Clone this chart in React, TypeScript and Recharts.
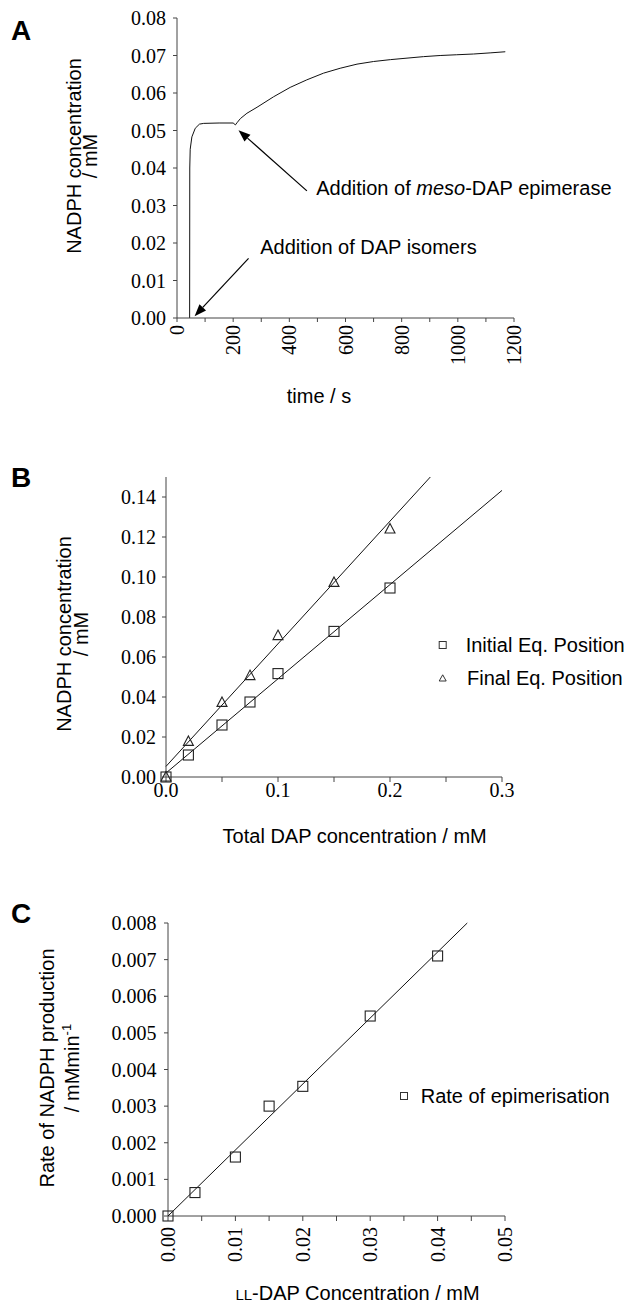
import React from "react";
import {
  LineChart,
  Line,
  ScatterChart,
  Scatter,
  XAxis,
  YAxis,
  ReferenceLine,
  Legend,
} from "recharts";

const SERIF = "Liberation Serif, Times New Roman, serif";
const SANS = "Liberation Sans, Arial, sans-serif";
const AXIS = "#444";
const INK = "#111";

// Panel A: NADPH trace over time
const traceTime = [
  45, 45.5, 47, 53, 65, 80, 95, 150, 200, 208, 215, 226, 249, 285, 344, 403,
  462, 522, 581, 641, 700, 760, 819, 878, 937, 996, 1056, 1115, 1169,
];
const traceNadph = [
  0, 0.04, 0.045, 0.0483, 0.0506, 0.0517, 0.0519, 0.052, 0.052, 0.0515,
  0.0522, 0.0532, 0.0546, 0.0562, 0.059, 0.0615, 0.0635, 0.0653, 0.0666,
  0.0677, 0.0684, 0.0689, 0.0693, 0.0697, 0.07, 0.0702, 0.0704, 0.0707, 0.071,
];
const timeTicks = [0, 100, 200, 300, 400, 500, 600, 700, 800, 900, 1000, 1100, 1200];
const nadphTicksA = [0, 0.01, 0.02, 0.03, 0.04, 0.05, 0.06, 0.07, 0.08];

// arrows: tail -> head, in data units
const dapArrowFrom = { x: 254.8, y: 0.0159 };
const dapArrowTo = { x: 62.6, y: 0.0005 };
const epiArrowFrom = { x: 462.5, y: 0.0339 };
const epiArrowTo = { x: 219, y: 0.0501 };

// Panel B: equilibrium positions
const totalDap = [0, 0.02, 0.05, 0.075, 0.1, 0.15, 0.2];
const initialEq = [0, 0.011, 0.026, 0.0375, 0.0517, 0.0728, 0.0945];
const finalEq = [0, 0.0178, 0.0373, 0.0507, 0.0707, 0.0973, 0.124];
const initialFitX = [0, 0.3];
const initialFitY = [0.002, 0.1433];
const finalFitX = [0, 0.236];
const finalFitY = [0.0053, 0.15];
const dapTicks = [0, 0.05, 0.1, 0.15, 0.2, 0.25, 0.3];
const nadphTicksB = [0, 0.02, 0.04, 0.06, 0.08, 0.1, 0.12, 0.14];

// Panel C: rate of epimerisation
const llDap = [0, 0.004, 0.01, 0.015, 0.02, 0.03, 0.04];
const epimRate = [0, 0.00064, 0.00161, 0.003, 0.00354, 0.00546, 0.0071];
const rateFitX = [0, 0.0444];
const rateFitY = [0, 0.008];
const llDapTicks = [0, 0.005, 0.01, 0.015, 0.02, 0.025, 0.03, 0.035, 0.04, 0.045, 0.05];
const rateTicks = [0, 0.001, 0.002, 0.003, 0.004, 0.005, 0.006, 0.007, 0.008];

const pairs = (xs: number[], ys: number[]) => xs.map((x, i) => ({ x, y: ys[i] }));
const traceData = traceTime.map((t, i) => ({ t, v: traceNadph[i] }));

const serifStyle = { fontFamily: SERIF, fontSize: 20 };
const sansStyle = { fontFamily: SANS, fontSize: 20 };

// y ticks: right-aligned, centred on the tick
const yTick = (fmt: (v: number) => string) => (props: any) => {
  const { x, y, payload } = props;
  return (
    <text x={x} y={y + 7} textAnchor="end" fill="#000" style={serifStyle}>
      {fmt(payload.value)}
    </text>
  );
};

// upright x ticks, only some values labelled
const xTick =
  (show: (v: number) => boolean, fmt: (v: number) => string) => (props: any) => {
    const { x, y, payload } = props;
    if (!show(payload.value)) return <g />;
    return (
      <text x={x} y={y + 13} textAnchor="middle" fill="#000" style={serifStyle}>
        {fmt(payload.value)}
      </text>
    );
  };

// x ticks rotated to read bottom-to-top
const rotatedTick =
  (show: (v: number) => boolean, fmt: (v: number) => string) => (props: any) => {
    const { x, y, payload } = props;
    if (!show(payload.value)) return <g />;
    return (
      <text
        x={x}
        y={y}
        transform={`rotate(-90 ${x} ${y})`}
        textAnchor="end"
        dominantBaseline="central"
        fill="#000"
        style={serifStyle}
      >
        {fmt(payload.value)}
      </text>
    );
  };

const Square = (p: any) => (
  <rect x={p.cx - 5} y={p.cy - 5} width={10} height={10} fill="none" stroke="#222" strokeWidth={1.1} />
);
const Triangle = (p: any) => (
  <path
    d={`M${p.cx},${p.cy - 5.5} L${p.cx + 5},${p.cy + 4} L${p.cx - 5},${p.cy + 4} Z`}
    fill="none"
    stroke="#222"
    strokeWidth={1.1}
  />
);
const NoDot = () => <g />;

const yTitle = (lines: React.ReactNode[], xs: number[], cy: number) => () => (
  <g>
    {lines.map((line, i) => (
      <text
        key={i}
        x={xs[i]}
        y={cy}
        transform={`rotate(-90 ${xs[i]} ${cy})`}
        textAnchor="middle"
        fill="#000"
        style={sansStyle}
      >
        {line}
      </text>
    ))}
  </g>
);

const xTitle = (content: React.ReactNode, cx: number, y: number) => () => (
  <text x={cx} y={y} textAnchor="middle" fill="#000" style={sansStyle}>
    {content}
  </text>
);

const arrowShape = (label: React.ReactNode, dx: number, dy: number) => (p: any) => {
  const { x1, y1, x2, y2 } = p;
  const a = Math.atan2(y2 - y1, x2 - x1);
  const len = 12;
  const half = 4.5;
  const bx = x2 - len * Math.cos(a);
  const by = y2 - len * Math.sin(a);
  const head = `${x2},${y2} ${bx - half * Math.sin(a)},${by + half * Math.cos(a)} ${
    bx + half * Math.sin(a)
  },${by - half * Math.cos(a)}`;
  return (
    <g>
      <line x1={x1} y1={y1} x2={bx} y2={by} stroke="#000" strokeWidth={1.2} />
      <polygon points={head} fill="#000" />
      <text x={x1 + dx} y={y1 + dy} fill="#000" style={sansStyle}>
        {label}
      </text>
    </g>
  );
};

const PanelLetter = ({ ch, top }: { ch: string; top: number }) => (
  <div
    style={{
      position: "absolute",
      left: 11,
      top,
      fontFamily: SANS,
      fontWeight: "bold",
      fontSize: 28,
      lineHeight: 1,
    }}
  >
    {ch}
  </div>
);

const PanelA = () => (
  <LineChart
    width={632}
    height={410}
    data={traceData}
    margin={{ top: 18, right: 118, bottom: 0, left: 0 }}
  >
    <XAxis
      dataKey="t"
      type="number"
      domain={[0, 1200]}
      ticks={timeTicks}
      interval={0}
      height={92}
      axisLine={{ stroke: AXIS }}
      tickLine={{ stroke: AXIS }}
      tickSize={4}
      tickMargin={3}
      tick={rotatedTick((v) => v % 200 === 0, (v) => String(v))}
      label={xTitle("time / s", 319, 403)}
    />
    <YAxis
      type="number"
      domain={[0, 0.08]}
      ticks={nadphTicksA}
      interval={0}
      width={177}
      axisLine={{ stroke: AXIS }}
      tickLine={{ stroke: AXIS }}
      tickSize={4}
      tickMargin={7}
      tick={yTick((v) => v.toFixed(2))}
      label={yTitle(["NADPH concentration", "/ mM"], [80.5, 97], 156)}
    />
    <Line
      dataKey="v"
      type="linear"
      stroke={INK}
      strokeWidth={1}
      dot={false}
      isAnimationActive={false}
    />
    <ReferenceLine
      segment={[dapArrowFrom, dapArrowTo]}
      ifOverflow="visible"
      shape={arrowShape("Addition of DAP isomers", 11.7, -4.3)}
    />
    <ReferenceLine
      segment={[epiArrowFrom, epiArrowTo]}
      ifOverflow="visible"
      shape={arrowShape(
        <>
          Addition of <tspan fontStyle="italic">meso</tspan>-DAP epimerase
        </>,
        9.3,
        4
      )}
    />
  </LineChart>
);

const PanelB = () => (
  <ScatterChart width={632} height={440} margin={{ top: 57, right: 130, bottom: 0, left: 0 }}>
    <XAxis
      dataKey="x"
      type="number"
      domain={[0, 0.3]}
      ticks={dapTicks}
      interval={0}
      height={83}
      axisLine={{ stroke: AXIS }}
      tickLine={{ stroke: AXIS }}
      tickSize={5}
      tickMargin={2}
      tick={xTick((v) => Math.round(v * 100) % 10 === 0, (v) => v.toFixed(1))}
      label={xTitle("Total DAP concentration / mM", 354.7, 423.3)}
    />
    <YAxis
      dataKey="y"
      type="number"
      domain={[0, 0.15]}
      ticks={nadphTicksB}
      interval={0}
      width={166}
      axisLine={{ stroke: AXIS }}
      tickLine={{ stroke: AXIS }}
      tickSize={4}
      tickMargin={6}
      tick={yTick((v) => v.toFixed(2))}
      label={yTitle(["NADPH concentration", "/ mM"], [70.5, 88], 214)}
    />
    <Scatter
      data={pairs(finalFitX, finalFitY)}
      line={{ stroke: INK, strokeWidth: 1 }}
      shape={NoDot}
      isAnimationActive={false}
      legendType="none"
    />
    <Scatter
      data={pairs(initialFitX, initialFitY)}
      line={{ stroke: INK, strokeWidth: 1 }}
      shape={NoDot}
      isAnimationActive={false}
      legendType="none"
    />
    <Scatter
      name="Initial Eq. Position"
      data={pairs(totalDap, initialEq)}
      shape={Square}
      isAnimationActive={false}
    />
    <Scatter
      name="Final Eq. Position"
      data={pairs(totalDap, finalEq)}
      shape={Triangle}
      isAnimationActive={false}
    />
    <Legend
      layout="vertical"
      align="center"
      verticalAlign="middle"
      wrapperStyle={{ left: 430, top: 205, width: 202, height: 75 }}
      content={() => (
        <svg width={202} height={75}>
          <rect x={9.2} y={16.5} width={7} height={7} fill="none" stroke="#333" />
          <text x={35.7} y={27} fill="#000" style={sansStyle}>
            Initial Eq. Position
          </text>
          <path d="M12.7,49.8 L16.2,56 L9.2,56 Z" fill="none" stroke="#333" />
          <text x={37} y={60.3} fill="#000" style={sansStyle}>
            Final Eq. Position
          </text>
        </svg>
      )}
    />
  </ScatterChart>
);

const PanelC = () => (
  <ScatterChart width={632} height={446} margin={{ top: 53, right: 127, bottom: 0, left: 0 }}>
    <XAxis
      dataKey="x"
      type="number"
      domain={[0, 0.05]}
      ticks={llDapTicks}
      interval={0}
      height={100}
      axisLine={{ stroke: AXIS }}
      tickLine={{ stroke: AXIS }}
      tickSize={5}
      tickMargin={6}
      tick={rotatedTick((v) => Math.round(v * 1000) % 10 === 0, (v) => v.toFixed(2))}
      label={xTitle(
        <>
          <tspan fontSize={15}>LL</tspan>-DAP Concentration / mM
        </>,
        357.5,
        430
      )}
    />
    <YAxis
      dataKey="y"
      type="number"
      domain={[0, 0.008]}
      ticks={rateTicks}
      interval={0}
      width={168}
      axisLine={{ stroke: AXIS }}
      tickLine={{ stroke: AXIS }}
      tickSize={4}
      tickMargin={7.5}
      tick={yTick((v) => v.toFixed(3))}
      label={yTitle(
        [
          "Rate of NADPH production",
          <>
            / mMmin
            <tspan dy={-8} fontSize={13}>
              -1
            </tspan>
          </>,
        ],
        [54, 79],
        198
      )}
    />
    <Scatter
      data={pairs(rateFitX, rateFitY)}
      line={{ stroke: INK, strokeWidth: 1 }}
      shape={NoDot}
      isAnimationActive={false}
      legendType="none"
    />
    <Scatter
      name="Rate of epimerisation"
      data={pairs(llDap, epimRate)}
      shape={Square}
      isAnimationActive={false}
    />
    <Legend
      layout="vertical"
      align="center"
      verticalAlign="middle"
      wrapperStyle={{ left: 395, top: 206, width: 237, height: 40 }}
      content={() => (
        <svg width={237} height={40}>
          <rect x={5.5} y={16.5} width={7} height={7} fill="none" stroke="#333" />
          <text x={25.7} y={27} fill="#000" style={sansStyle}>
            Rate of epimerisation
          </text>
        </svg>
      )}
    />
  </ScatterChart>
);

export default function App() {
  return (
    <div
      style={{
        position: "absolute",
        left: 0,
        top: 0,
        width: 632,
        height: 1316,
        background: "#fff",
        overflow: "hidden",
      }}
    >
      <div style={{ position: "absolute", left: 0, top: 0 }}>
        <PanelA />
      </div>
      <div style={{ position: "absolute", left: 0, top: 420 }}>
        <PanelB />
      </div>
      <div style={{ position: "absolute", left: 0, top: 870 }}>
        <PanelC />
      </div>
      <PanelLetter ch="A" top={17} />
      <PanelLetter ch="B" top={464} />
      <PanelLetter ch="C" top={900} />
    </div>
  );
}
